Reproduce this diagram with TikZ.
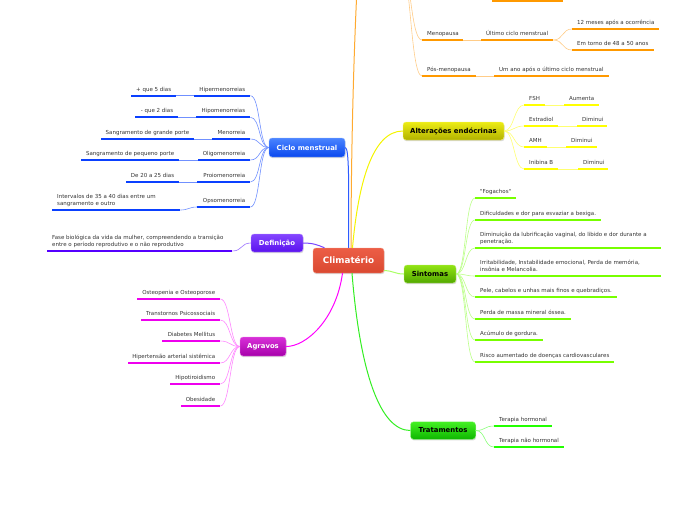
\documentclass[tikz,border=0pt]{standalone}
\usepackage{fontspec}
\setmainfont{DejaVu Sans}[Ligatures=TeXOff]
\usetikzlibrary{shadows}
\definecolor{txt}{HTML}{333333}
\definecolor{ulOr}{HTML}{FF9900}\definecolor{cnOr}{HTML}{FFCC88}\definecolor{mainOr}{HTML}{FFAA30}
\definecolor{ulBl}{HTML}{0A40FF}\definecolor{cnBl}{HTML}{7090FF}\definecolor{mainBl}{HTML}{2D5BFF}
\definecolor{ulPu}{HTML}{5500FF}\definecolor{cnPu}{HTML}{9A70FF}\definecolor{mainPu}{HTML}{7744FF}
\definecolor{ulMa}{HTML}{EE00EE}\definecolor{cnMa}{HTML}{FF88FF}\definecolor{mainMa}{HTML}{FF00FF}
\definecolor{ulYe}{HTML}{FFFF00}\definecolor{cnYe}{HTML}{FFFF70}\definecolor{mainYe}{HTML}{F4F400}
\definecolor{ulLi}{HTML}{77FF00}\definecolor{cnLi}{HTML}{BBFF88}\definecolor{mainLi}{HTML}{AAFF66}
\definecolor{ulGr}{HTML}{22FF00}\definecolor{cnGr}{HTML}{88FF77}\definecolor{mainGr}{HTML}{33EE22}
\definecolor{clTop}{HTML}{EC5E46}\definecolor{clBot}{HTML}{DA4830}\definecolor{clBor}{HTML}{F49C8A}
\definecolor{ciTop}{HTML}{4A84FF}\definecolor{ciBot}{HTML}{0A48EE}
\definecolor{deTop}{HTML}{8446FF}\definecolor{deBot}{HTML}{5A12EE}
\definecolor{agTop}{HTML}{D830D8}\definecolor{agBot}{HTML}{A600AA}
\definecolor{alTop}{HTML}{ECEC14}\definecolor{alBot}{HTML}{B2B200}
\definecolor{siTop}{HTML}{92E414}\definecolor{siBot}{HTML}{52A800}
\definecolor{trTop}{HTML}{44F024}\definecolor{trBot}{HTML}{0EB600}
\newcommand\lfR[6]{\pgfmathsetmacro\mylw{#4-#3-10}%
  \node[leaf,anchor=south west] (#1) at (#3,#5) {\makebox[\mylw pt][l]{\begin{tabular}[b]{@{}l@{}}#6\end{tabular}}};%
  \draw[ul=#2] (#1.south west) -- (#1.south east);}
\newcommand\lfL[6]{\pgfmathsetmacro\mylw{#4-#3-10}%
  \node[leaf,anchor=south west] (#1) at (#3,#5) {\makebox[\mylw pt][r]{\begin{tabular}[b]{@{}r@{}}#6\end{tabular}}};%
  \draw[ul=#2] (#1.south west) -- (#1.south east);}
\begin{document}
\begin{tikzpicture}[x=1pt,y=-1pt,
  leaf/.style={inner xsep=5pt, inner ysep=1pt, text depth=3.3pt, font=\fontsize{5.5}{7}\selectfont, text=txt},
  ul/.style={draw=#1, line width=2pt},
  chc/.style={draw=#1, line width=0.6pt},
  mainc/.style={draw=#1, line width=1pt},
  topic/.style={rounded corners=3pt, inner sep=0pt, line width=0.4pt,
    font=\fontsize{6.9}{8}\selectfont\bfseries, text=white,
    drop shadow={shadow xshift=0.6pt, shadow yshift=-1.2pt, opacity=0.3}},
]
\useasboundingbox (0,0) rectangle (696,520);
\clip (0,0) rectangle (696,520);

% ---------- topics
\node[topic, minimum width=71pt, minimum height=25pt, font=\fontsize{8.8}{10}\selectfont\bfseries,
  top color=clTop, bottom color=clBot, draw=clBor] (cl) at (348.5,260.5) {Climatério};
\node[topic, minimum width=76pt, minimum height=19pt, top color=ciTop, bottom color=ciBot, draw=ciTop!60!white] (ciclo) at (307,147.5) {Ciclo menstrual};
\node[topic, minimum width=52pt, minimum height=18pt, top color=deTop, bottom color=deBot, draw=deTop!60!white] (def) at (277,243) {Definição};
\node[topic, minimum width=46pt, minimum height=19pt, top color=agTop, bottom color=agBot, draw=agTop!60!white] (agr) at (263,346.5) {Agravos};
\node[topic, minimum width=101pt, minimum height=18pt, top color=alTop, bottom color=alBot, draw=alTop!60!white, text=black] (alt) at (453.5,131) {Alterações endócrinas};
\node[topic, minimum width=52pt, minimum height=18pt, top color=siTop, bottom color=siBot, draw=siTop!60!white, text=black] (sin) at (430,274) {Sintomas};
\node[topic, minimum width=65pt, minimum height=17.5pt, top color=trTop, bottom color=trBot, draw=trTop!60!white, text=black] (tra) at (443,430.5) {Tratamentos};

\coordinate (orTop) at (358,-30);
\coordinate (orPar) at (399,-40);
\coordinate (orUlA) at (492,0.5);
\coordinate (orUlB) at (563,0.5);

% ---------- main branches
\draw[mainc=mainOr] ([xshift=2.5pt]cl.north) .. controls (351,150) and (354,40) .. (orTop);
\draw[mainc=mainBl] (cl.north) .. controls (349,180) and (349,147.5) .. (ciclo.east);
\draw[mainc=mainYe] ([xshift=4pt]cl.north) .. controls (358,185) and (372,131) .. (alt.west);
\draw[mainc=mainPu] (def.east) .. controls (313,243) and (318,245) .. ([xshift=-24pt]cl.north);
\draw[mainc=mainMa] ([xshift=-6pt]cl.south) .. controls (336,320) and (306,346.5) .. (agr.east);
\draw[mainc=mainGr] ([xshift=3.5pt]cl.south) .. controls (360,372) and (380,430.5) .. (tra.west);
\draw[mainc=mainLi] ([yshift=-10pt]cl.east) .. controls (394,271) and (395,274) .. (sin.west);

% ---------- Ciclo menstrual
\lfL{hiper}{ulBl}{194}{250}{95.7}{Hipermenorreias}
\lfL{plus5}{ulBl}{131}{176}{95.7}{+ que 5 dias}
\lfL{hipo}{ulBl}{196}{250}{117.3}{Hipomenorreias}
\lfL{minus2}{ulBl}{135}{178}{117.3}{- que 2 dias}
\lfL{meno}{ulBl}{212}{250}{139}{Menorreia}
\lfL{grande}{ulBl}{101}{194}{139}{Sangramento de grande porte}
\lfL{oligo}{ulBl}{198}{250}{160}{Oligomenorreia}
\lfL{pequeno}{ulBl}{81}{179}{160}{Sangramento de pequeno porte}
\lfL{proio}{ulBl}{197}{250}{182}{Proiomenorreia}
\lfL{d2025}{ulBl}{126}{179}{182}{De 20 a 25 dias}
\lfL{opso}{ulBl}{197}{250}{207}{Opsomenorreia}
\lfR{interv}{ulBl}{52}{180}{210}{Intervalos de 35 a 40 dias entre um\\sangramento e outro}
\foreach \n in {hiper,hipo,meno,oligo,proio,opso}
  \draw[chc=cnBl] (ciclo.west) .. controls +(-10,0) and +(10,0) .. (\n.south east);
\draw[chc=cnBl] (hiper.south west) -- (plus5.south east);
\draw[chc=cnBl] (hipo.south west) -- (minus2.south east);
\draw[chc=cnBl] (meno.south west) -- (grande.south east);
\draw[chc=cnBl] (oligo.south west) -- (pequeno.south east);
\draw[chc=cnBl] (proio.south west) -- (d2025.south east);
\draw[chc=cnBl] (opso.south west) .. controls +(-8,0) and +(8,0) .. (interv.south east);

% ---------- Definicao
\lfR{deftxt}{ulPu}{47}{232}{251}{Fase biológica da vida da mulher, compreendendo a transição\\entre o período reprodutivo e o não reprodutivo}
\draw[chc=cnPu] (def.west) .. controls +(-10,0) and +(10,0) .. (deftxt.south east);

% ---------- Agravos
\lfL{osteo}{ulMa}{137}{220}{299}{Osteopenia e Osteoporose}
\lfL{transt}{ulMa}{141}{220}{320}{Transtornos Psicossociais}
\lfL{diab}{ulMa}{162}{220}{341}{Diabetes Mellitus}
\lfL{hart}{ulMa}{128}{220}{363}{Hipertensão arterial sistêmica}
\lfL{hipot}{ulMa}{170}{220}{384}{Hipotiroidismo}
\lfL{obes}{ulMa}{181}{220}{406}{Obesidade}
\foreach \n in {osteo,transt,diab,hart,hipot,obes}
  \draw[chc=cnMa] (agr.west) .. controls +(-10,0) and +(10,0) .. (\n.south east);

% ---------- Alteracoes endocrinas
\lfR{fsh}{ulYe}{524}{545}{105}{FSH}
\lfR{aum}{ulYe}{564}{599}{105}{Aumenta}
\lfR{estr}{ulYe}{524}{558}{126}{Estradiol}
\lfR{dimA}{ulYe}{577}{607}{126}{Diminui}
\lfR{amh}{ulYe}{524}{547}{147}{AMH}
\lfR{dimB}{ulYe}{566}{597}{147}{Diminui}
\lfR{inib}{ulYe}{524}{558}{169}{Inibina B}
\lfR{dimC}{ulYe}{578}{608}{169}{Diminui}
\foreach \n in {fsh,estr,amh,inib}
  \draw[chc=cnYe] (alt.east) .. controls +(10,0) and +(-10,0) .. (\n.south west);
\draw[chc=cnYe] (fsh.south east) -- (aum.south west);
\draw[chc=cnYe] (estr.south east) -- (dimA.south west);
\draw[chc=cnYe] (amh.south east) -- (dimB.south west);
\draw[chc=cnYe] (inib.south east) -- (dimC.south west);

% ---------- Sintomas
\lfR{fog}{ulLi}{475}{516}{198}{"Fogachos"}
\lfR{dific}{ulLi}{475}{601}{220}{Dificuldades e dor para esvaziar a bexiga.}
\lfR{dimin}{ulLi}{475}{661}{248}{Diminuição da lubrificação vaginal, do libido e dor durante a\\penetração.}
\lfR{irrit}{ulLi}{475}{661}{276}{Irritabilidade, Instabilidade emocional, Perda de memória,\\insônia e Melancolia.}
\lfR{pele}{ulLi}{475}{617}{297}{Pele, cabelos e unhas mais finos e quebradiços.}
\lfR{perda}{ulLi}{475}{571}{319}{Perda de massa mineral óssea.}
\lfR{acum}{ulLi}{475}{543}{340}{Acúmulo de gordura.}
\lfR{risco}{ulLi}{475}{614}{362}{Risco aumentado de doenças cardiovasculares}
\foreach \n in {fog,dific,dimin,irrit,pele,perda,acum,risco}
  \draw[chc=cnLi] (sin.east) .. controls +(10,0) and +(-10,0) .. (\n.south west);

% ---------- Tratamentos
\lfR{terh}{ulGr}{494}{552}{426}{Terapia hormonal}
\lfR{ternh}{ulGr}{494}{564}{447}{Terapia não hormonal}
\foreach \n in {terh,ternh}
  \draw[chc=cnGr] (tra.east) .. controls +(10,0) and +(-10,0) .. (\n.south west);

% ---------- Fases (orange)
\lfR{menop}{ulOr}{422}{463}{40}{Menopausa}
\lfR{ultimo}{ulOr}{481}{553}{40}{Último ciclo menstrual}
\lfR{m12}{ulOr}{572}{659}{29}{12 meses após a ocorrência}
\lfR{m48}{ulOr}{572}{654}{50}{Em torno de 48 a 50 anos}
\lfR{posm}{ulOr}{422}{476}{76}{Pós-menopausa}
\lfR{umano}{ulOr}{494}{609}{76}{Um ano após o último ciclo menstrual}
\draw[chc=cnOr] (orPar) .. controls +(12,0) and +(-12,0) .. (menop.south west);
\draw[chc=cnOr] (orPar) .. controls +(12,0) and +(-12,0) .. (posm.south west);
\draw[chc=cnOr] (menop.south east) -- (ultimo.south west);
\draw[chc=cnOr] (posm.south east) -- (umano.south west);
\foreach \n in {m12,m48}
  \draw[chc=cnOr] (ultimo.south east) .. controls +(10,0) and +(-10,0) .. (\n.south west);
\draw[ul=ulOr] (orUlA) -- (orUlB);
\end{tikzpicture}
\end{document}
